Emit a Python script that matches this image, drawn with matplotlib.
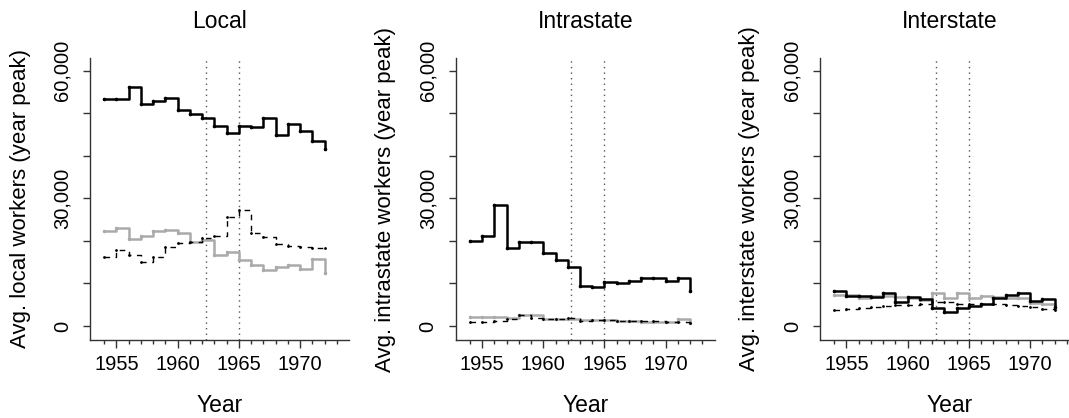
import matplotlib
matplotlib.use("Agg")
import matplotlib.pyplot as plt
from matplotlib.ticker import FixedLocator, NullFormatter

plt.rcParams['font.family'] = ['Liberation Sans', 'DejaVu Sans']

years = list(range(1954, 1973))

panels = ["Local", "Intrastate", "Interstate"]
ylabels = ["Avg. local workers (year peak)",
           "Avg. intrastate workers (year peak)",
           "Avg. interstate workers (year peak)"]

# Black solid series
local_black = [53400, 53400, 56100, 52300, 52900, 53700, 50700, 49800, 48900, 47100,
               45400, 47100, 46800, 49000, 44900, 47400, 45800, 43600, 41700]
intra_black = [19900, 21100, 28400, 18250, 19700, 19700, 17100, 15400, 13900, 9500,
               9250, 10350, 10050, 10600, 11350, 11300, 10650, 11200, 8200]
inter_black = [8200, 7150, 7000, 6750, 7750, 5750, 6900, 6350, 4200, 3400,
               4200, 4800, 5200, 6650, 7300, 7700, 5900, 6450, 4550]

# Gray solid series
local_gray = [22400, 23050, 20550, 21200, 22400, 22650, 21950, 19700, 20100, 16800,
              17400, 15400, 14300, 13100, 13950, 14350, 13350, 15700, 12550]
intra_gray = [2200, 2150, 2000, 1900, 2500, 2500, 1700, 1650, 1600, 1400,
              1300, 1300, 1100, 1100, 1000, 900, 900, 1550, 800]
inter_gray = [7300, 7300, 6650, 7150, 7150, 6750, 6650, 6200, 7700, 6500,
              7700, 6650, 7050, 6900, 6650, 6500, 5400, 5100, 4000]

# Black dashed series
local_dash = [16150, 17950, 16700, 15000, 16150, 18600, 19450, 19850, 20700, 21100,
              25650, 27150, 21900, 20800, 19300, 18800, 18600, 18350, 18250]
intra_dash = [850, 950, 1100, 1600, 2500, 1800, 1650, 1600, 1800, 1200,
              1400, 1500, 1200, 1150, 1100, 1050, 1000, 950, 800]
inter_dash = [3850, 4050, 4250, 4500, 4700, 4850, 4950, 5250, 5700, 5600,
              5200, 5100, 5100, 5100, 4950, 4800, 4500, 4000, 3800]

vlines = [1962.3, 1965.0]
yticks_major = [0, 30000, 60000]
yticks_all = [0, 10000, 20000, 30000, 40000, 50000, 60000]
xticks_major = [1955, 1960, 1965, 1970]
xticks_minor = list(range(1954, 1974))

black_series = [local_black, intra_black, inter_black]
gray_series = [local_gray, intra_gray, inter_gray]
dash_series = [local_dash, intra_dash, inter_dash]

W, H = 1069, 418
fig = plt.figure(figsize=(W / 100, H / 100), dpi=100)

lefts = [90, 455.7, 820]
ax_w = 259
ax_top, ax_bot = 58, 340
axis_col = '#333333'

for i in range(3):
    ax = fig.add_axes([lefts[i] / W, (H - ax_bot) / H, ax_w / W, (ax_bot - ax_top) / H])
    ax.set_xlim(1952.85, 1974.0)
    ax.set_ylim(-3300, 63000)

    for xv in vlines:
        ax.axvline(xv, color='#555555', lw=1.0, linestyle=(0, (1, 3)), zorder=1)

    ax.step(years, gray_series[i], where='post', color='#aaaaaa', lw=1.8, zorder=2)
    ax.plot(years, gray_series[i], 'o', color='#aaaaaa', ms=1.5, zorder=2)
    ax.step(years, dash_series[i], where='post', color='black', lw=1.0,
            linestyle=(0, (4, 4)), zorder=3)
    ax.plot(years, dash_series[i], 'o', color='black', ms=1.0, zorder=3)
    ax.step(years, black_series[i], where='post', color='black', lw=1.8, zorder=4)
    ax.plot(years, black_series[i], 'o', color='black', ms=1.6, zorder=4)

    for s in ['top', 'right']:
        ax.spines[s].set_visible(False)
    for s in ['left', 'bottom']:
        ax.spines[s].set_color(axis_col)
        ax.spines[s].set_linewidth(1.0)

    ax.yaxis.set_major_locator(FixedLocator(yticks_major))
    ax.yaxis.set_minor_locator(FixedLocator([v for v in yticks_all if v not in yticks_major]))
    ax.set_yticklabels([f"{v:,}" for v in yticks_major], rotation=90, va='center')
    ax.yaxis.set_minor_formatter(NullFormatter())
    ax.tick_params(axis='y', which='both', length=5, width=1.0, color=axis_col,
                   labelsize=14.5, pad=8, direction='out')

    ax.xaxis.set_major_locator(FixedLocator(xticks_major))
    ax.xaxis.set_minor_locator(FixedLocator([v for v in xticks_minor if v not in xticks_major]))
    ax.set_xticklabels([str(v) for v in xticks_major])
    ax.xaxis.set_minor_formatter(NullFormatter())
    ax.tick_params(axis='x', which='major', length=5.5, width=1.0, color=axis_col,
                   labelsize=14.5, pad=5, direction='out')
    ax.tick_params(axis='x', which='minor', length=3, width=1.0, color=axis_col,
                   direction='out')

    ax_h = ax_bot - ax_top
    ax.text(0.5, (ax_bot - 21) / ax_h, panels[i], transform=ax.transAxes,
            ha='center', va='center', fontsize=16.5)
    ax.text(0.5, (ax_bot - 405) / ax_h, 'Year', transform=ax.transAxes,
            ha='center', va='center', fontsize=16.5)
    ax.text((20 - 90) / ax_w, (ax_bot - 199) / ax_h, ylabels[i], transform=ax.transAxes,
            ha='center', va='center', rotation=90, fontsize=16)

fig.savefig('out.png', dpi=100)
